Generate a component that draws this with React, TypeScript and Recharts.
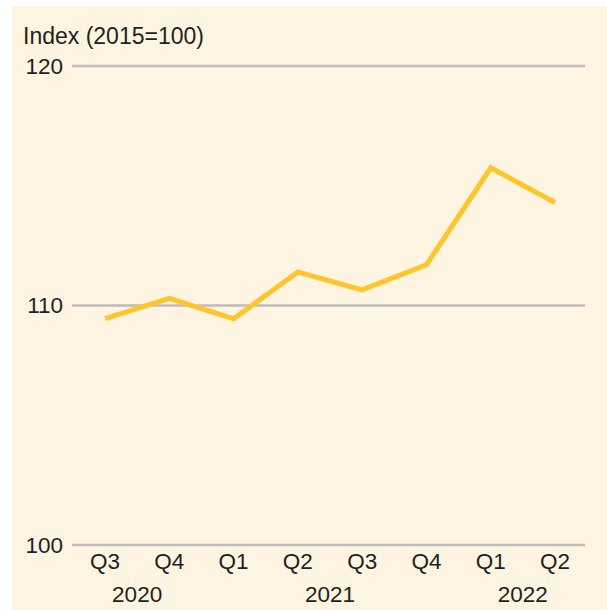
import React from 'react';
import { LineChart, Line, XAxis, YAxis, CartesianGrid } from 'recharts';

const quarters = ['Q3', 'Q4', 'Q1', 'Q2', 'Q3', 'Q4', 'Q1', 'Q2'];
const years = ['2020', '2020', '2021', '2021', '2021', '2021', '2022', '2022'];
const indexValues = [109.45, 110.3, 109.45, 111.4, 110.65, 111.7, 115.75, 114.3];
const yTicks = [100, 110, 120];

const FONT = '"Liberation Sans", Arial, sans-serif';
const TEXT = '#231F20';
const BG = '#FEF4E2';

const data = quarters.map((q, i) => ({ i, quarter: q, year: years[i], value: indexValues[i] }));

// each year label sits at the middle of its quarters
const yearNames = Array.from(new Set(years));
const yearCenters = yearNames.map((y) => {
    const idx = data.filter((d) => d.year === y).map((d) => d.i);
    return idx.reduce((a, b) => a + b, 0) / idx.length;
});
const yearLabel = (v: number) => yearNames[yearCenters.indexOf(v)] ?? '';

const tickStyle = { fill: TEXT, fontSize: 22.5, fontFamily: FONT };

const App: React.FC = () => {
    return (
        <div style={{ position: 'absolute', left: 0, top: 0, width: 607, height: 610, background: '#fff' }}>
            <div style={{ position: 'absolute', left: 12, top: 6, width: 595, height: 604, background: BG }}>
                <div
                    style={{
                        position: 'absolute',
                        left: 11,
                        top: 19,
                        fontFamily: FONT,
                        fontSize: 23,
                        color: TEXT,
                        lineHeight: '23px',
                        whiteSpace: 'nowrap',
                    }}
                >
                    Index (2015=100)
                </div>
                <LineChart
                    width={595}
                    height={604}
                    data={data}
                    margin={{ top: 60, right: 22, left: 0, bottom: 0 }}
                >
                    <CartesianGrid vertical={false} stroke="#BDBDBD" strokeWidth={2.5} />
                    <XAxis
                        dataKey="quarter"
                        interval={0}
                        axisLine={false}
                        tickLine={false}
                        height={33}
                        padding={{ left: 33, right: 30 }}
                        tick={tickStyle}
                    />
                    <XAxis
                        xAxisId="year"
                        dataKey="i"
                        type="number"
                        domain={[0, quarters.length - 1]}
                        ticks={yearCenters}
                        tickFormatter={yearLabel}
                        axisLine={false}
                        tickLine={false}
                        height={32}
                        padding={{ left: 33, right: 30 }}
                        tick={tickStyle}
                    />
                    <YAxis
                        domain={[100, 120]}
                        ticks={yTicks}
                        axisLine={false}
                        tickLine={false}
                        width={60}
                        tickMargin={3}
                        tick={tickStyle}
                    />
                    <Line
                        type="linear"
                        dataKey="value"
                        stroke="#FFC52B"
                        strokeWidth={5}
                        strokeLinejoin="miter"
                        strokeLinecap="butt"
                        dot={false}
                        activeDot={false}
                        isAnimationActive={false}
                    />
                </LineChart>
            </div>
        </div>
    );
};

export default App;
